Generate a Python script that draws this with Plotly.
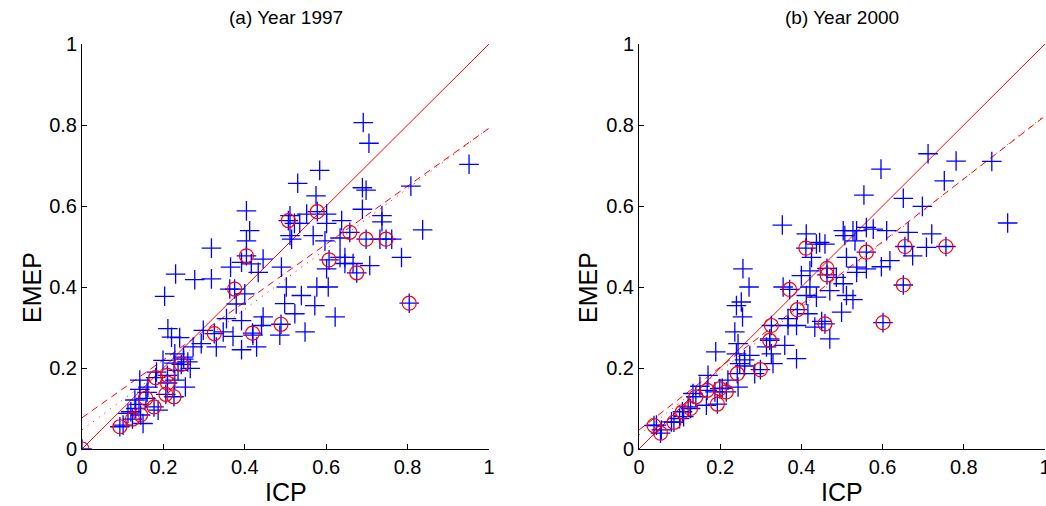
import plotly.graph_objects as go

# ---------------- Data ----------------
# Panel (a) Year 1997 : all points (blue +)
icp_97 = [0.691, 0.705, 0.951, 0.584, 0.530, 0.575, 0.808, 0.689, 0.698, 0.689,
          0.404, 0.837, 0.737, 0.737, 0.638, 0.552, 0.412, 0.404, 0.318, 0.511,
          0.522, 0.535, 0.601, 0.601, 0.568, 0.511, 0.515, 0.597, 0.634, 0.634,
          0.646, 0.646, 0.666, 0.707, 0.785, 0.732, 0.761, 0.601, 0.605, 0.577,
          0.572, 0.622, 0.539, 0.523, 0.548, 0.502, 0.498, 0.490, 0.486, 0.445,
          0.441, 0.429, 0.392, 0.371, 0.445, 0.433, 0.416, 0.392, 0.365, 0.363,
          0.379, 0.392, 0.400, 0.355, 0.330, 0.318, 0.277, 0.230, 0.203, 0.211,
          0.220, 0.240, 0.298, 0.347, 0.273, 0.293, 0.199, 0.228, 0.249, 0.266,
          0.254, 0.183, 0.142, 0.162, 0.142, 0.130, 0.150, 0.132, 0.101, 0.113,
          0.187, 0.228, 0.236, 0.420, 0.250, 0.260, 0.226, 0.120, 0.140, 0.160]
emep_97 = [0.806, 0.755, 0.703, 0.688, 0.656, 0.625, 0.649, 0.645, 0.639, 0.592,
           0.588, 0.541, 0.576, 0.561, 0.564, 0.580, 0.539, 0.514, 0.496, 0.576,
           0.557, 0.557, 0.580, 0.557, 0.527, 0.527, 0.518, 0.514, 0.521, 0.473,
           0.473, 0.458, 0.458, 0.453, 0.473, 0.518, 0.518, 0.445, 0.400, 0.400,
           0.354, 0.326, 0.379, 0.334, 0.289, 0.400, 0.359, 0.449, 0.281, 0.326,
           0.305, 0.252, 0.245, 0.278, 0.469, 0.436, 0.457, 0.461, 0.449, 0.395,
           0.358, 0.317, 0.383, 0.322, 0.252, 0.420, 0.418, 0.432, 0.377, 0.297,
           0.276, 0.275, 0.293, 0.289, 0.252, 0.260, 0.219, 0.235, 0.227, 0.199,
           0.153, 0.190, 0.170, 0.153, 0.147, 0.121, 0.063, 0.100, 0.059, 0.088,
           0.096, 0.170, 0.194, 0.281, 0.222, 0.215, 0.212, 0.092, 0.110, 0.140]
# Panel (a): circled points (red o)
icp_97_c = [0.000, 0.093, 0.124, 0.144, 0.157, 0.177, 0.181, 0.210, 0.210, 0.206,
            0.226, 0.244, 0.325, 0.375, 0.404, 0.419, 0.489, 0.507, 0.578, 0.607,
            0.658, 0.675, 0.698, 0.747, 0.804]
emep_97_c = [0.000, 0.055, 0.074, 0.084, 0.125, 0.104, 0.176, 0.182, 0.163, 0.135,
             0.129, 0.209, 0.285, 0.395, 0.477, 0.286, 0.308, 0.564, 0.586, 0.467,
             0.535, 0.435, 0.518, 0.518, 0.360]

# Panel (b) Year 2000 : all points (blue +)
icp_00 = [0.712, 0.781, 0.869, 0.596, 0.752, 0.554, 0.651, 0.698, 0.908, 0.353,
          0.663, 0.721, 0.610, 0.560, 0.577, 0.503, 0.527, 0.536, 0.507, 0.532,
          0.458, 0.437, 0.412, 0.425, 0.708, 0.674, 0.618, 0.597, 0.560, 0.536,
          0.536, 0.511, 0.503, 0.486, 0.470, 0.511, 0.527, 0.499, 0.470, 0.421,
          0.400, 0.421, 0.437, 0.412, 0.416, 0.433, 0.388, 0.367, 0.367, 0.355,
          0.388, 0.359, 0.322, 0.314, 0.330, 0.326, 0.285, 0.256, 0.271, 0.252,
          0.240, 0.255, 0.236, 0.244, 0.240, 0.248, 0.260, 0.273, 0.189, 0.219,
          0.244, 0.170, 0.166, 0.187, 0.205, 0.133, 0.121, 0.100, 0.080, 0.055,
          0.043, 0.150, 0.110, 0.260, 0.450, 0.445]
emep_00 = [0.729, 0.711, 0.710, 0.691, 0.662, 0.627, 0.619, 0.599, 0.558, 0.553,
           0.535, 0.531, 0.539, 0.547, 0.543, 0.539, 0.539, 0.539, 0.527, 0.514,
           0.506, 0.506, 0.531, 0.473, 0.498, 0.477, 0.465, 0.450, 0.445, 0.449,
           0.436, 0.473, 0.408, 0.424, 0.391, 0.379, 0.369, 0.338, 0.272, 0.440,
           0.428, 0.400, 0.375, 0.379, 0.334, 0.301, 0.305, 0.305, 0.322, 0.400,
           0.223, 0.256, 0.272, 0.252, 0.211, 0.235, 0.186, 0.445, 0.400, 0.363,
           0.354, 0.326, 0.289, 0.260, 0.235, 0.211, 0.205, 0.231, 0.240, 0.170,
           0.153, 0.182, 0.108, 0.141, 0.150, 0.137, 0.104, 0.075, 0.067, 0.047,
           0.059, 0.155, 0.080, 0.220, 0.315, 0.510]
# Panel (b): circled points (red o)
icp_00_c = [0.037, 0.053, 0.086, 0.107, 0.127, 0.140, 0.168, 0.193, 0.199, 0.215,
            0.242, 0.299, 0.322, 0.326, 0.371, 0.390, 0.411, 0.458, 0.463, 0.463,
            0.560, 0.601, 0.651, 0.655, 0.756]
emep_00_c = [0.058, 0.039, 0.066, 0.092, 0.100, 0.129, 0.145, 0.111, 0.149, 0.141,
             0.186, 0.196, 0.268, 0.305, 0.394, 0.344, 0.496, 0.309, 0.446, 0.430,
             0.486, 0.312, 0.405, 0.500, 0.500]

# Fitted lines: (intercept, slope)
fit_97_dash = (0.077, 0.715)
fit_97_dot = (0.047, 0.745)
fit_00_dash = (0.047, 0.775)
fit_00_dot = (0.035, 0.790)

line_x = [0.0, 1.0]
ticks = [0, 0.2, 0.4, 0.6, 0.8, 1]
tick_text = ["0", "0.2", "0.4", "0.6", "0.8", "1"]
titles = ["(a) Year 1997", "(b) Year 2000"]

# ---------------- Figure ----------------
W, H = 1046, 506
ml, mr, mt, mb = 82, 1, 44, 57
pw = W - ml - mr
ph = H - mt - mb

dom_a = [0, 407 / pw]
dom_b = [557 / pw, 1.0]

fig = go.Figure()

font_family = "Liberation Sans, Arial, Helvetica, sans-serif"


def add_panel(xa, ya, icp, emep, icp_c, emep_c, fdash, fdot):
    # 1:1 line
    fig.add_trace(go.Scatter(x=line_x, y=line_x, mode="lines",
                             line=dict(color="#ff0000", width=1),
                             xaxis=xa, yaxis=ya, hoverinfo="skip"))
    fig.add_trace(go.Scatter(x=line_x, y=[fdash[0] + fdash[1] * v for v in line_x],
                             mode="lines",
                             line=dict(color="#ff0000", width=1, dash="7px,5px"),
                             xaxis=xa, yaxis=ya, hoverinfo="skip"))
    fig.add_trace(go.Scatter(x=line_x, y=[fdot[0] + fdot[1] * v for v in line_x],
                             mode="lines",
                             line=dict(color="#ff0000", width=1, dash="1px,6px"),
                             xaxis=xa, yaxis=ya, hoverinfo="skip"))
    # all points: blue +
    fig.add_trace(go.Scatter(x=icp + icp_c, y=emep + emep_c, mode="markers",
                             marker=dict(symbol="cross-thin-open", size=14,
                                         color="#0000ff",
                                         line=dict(color="#0000ff", width=1.3)),
                             xaxis=xa, yaxis=ya))
    # circled points
    fig.add_trace(go.Scatter(x=icp_c, y=emep_c, mode="markers",
                             marker=dict(symbol="circle-open", size=14,
                                         color="#ff0000",
                                         line=dict(color="#ff0000", width=1.2)),
                             xaxis=xa, yaxis=ya))


add_panel("x", "y", icp_97, emep_97, icp_97_c, emep_97_c, fit_97_dash, fit_97_dot)
add_panel("x2", "y2", icp_00, emep_00, icp_00_c, emep_00_c, fit_00_dash, fit_00_dot)

axis_common = dict(range=[0, 1], tickvals=ticks, ticktext=tick_text,
                   ticks="inside", ticklen=5, tickwidth=1, tickcolor="#000000",
                   showline=True, linecolor="#000000", linewidth=1,
                   showgrid=False, zeroline=False, automargin=False,
                   ticklabeloverflow="allow",
                   tickfont=dict(family=font_family, size=20, color="#000000"))

fig.update_layout(
    width=W, height=H,
    margin=dict(l=ml, r=mr, t=mt, b=mb, pad=0),
    paper_bgcolor="#ffffff", plot_bgcolor="#ffffff",
    showlegend=False,
    template="none",
    font=dict(family=font_family, color="#000000"),
    xaxis=dict(domain=dom_a, anchor="y", **axis_common),
    yaxis=dict(domain=[0, 1], anchor="x", **axis_common),
    xaxis2=dict(domain=dom_b, anchor="y2", **axis_common),
    yaxis2=dict(domain=[0, 1], anchor="x2", **axis_common),
)

ann = []
for dom, t in zip([dom_a, dom_b], titles):
    cx = (dom[0] + dom[1]) / 2
    ann.append(dict(text=t, x=cx, y=(449 - 18) / ph, xref="paper", yref="paper",
                    showarrow=False, xanchor="center", yanchor="middle",
                    font=dict(family=font_family, size=19, color="#000000")))
    ann.append(dict(text="ICP", x=cx, y=(449 - 492) / ph, xref="paper", yref="paper",
                    showarrow=False, xanchor="center", yanchor="middle",
                    font=dict(family=font_family, size=25, color="#000000")))
for px in [32, 588]:
    ann.append(dict(text="EMEP", x=(px - ml) / pw, y=(449 - 288) / ph,
                    xref="paper", yref="paper", textangle=-90,
                    showarrow=False, xanchor="center", yanchor="middle",
                    font=dict(family=font_family, size=25, color="#000000")))
fig.update_layout(annotations=ann)

fig.write_html("out.html")
